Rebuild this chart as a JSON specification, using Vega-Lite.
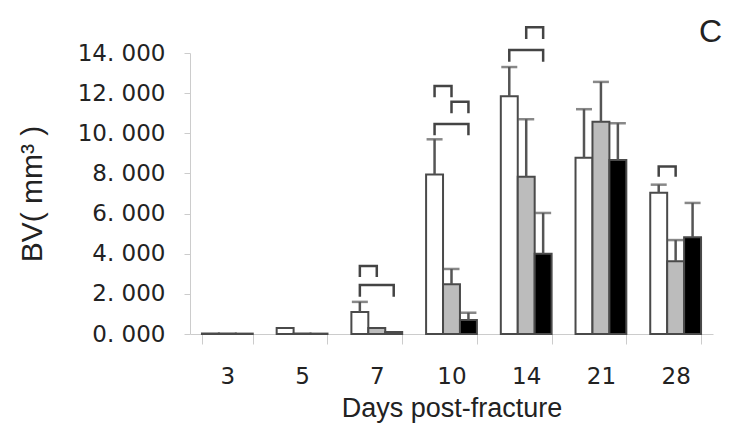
{
  "$schema": "https://vega.github.io/schema/vega-lite/v6.json",
  "autosize": {"type": "none"},
  "width": 523,
  "height": 281,
  "padding": {"left": 190, "top": 53, "right": 16, "bottom": 98},
  "background": "white",
  "config": {"view": {"stroke": null}},
  "title": {"text": "C", "anchor": "end", "frame": "group", "fontSize": 32, "font": "Liberation Sans", "fontWeight": "normal", "color": "#222", "offset": 6, "dx": 9, "dy": 33},
  "datasets": {
    "bars": [
      {"day": "3", "group": "white", "bv": 0.02},
      {"day": "3", "group": "grey", "bv": 0.02},
      {"day": "3", "group": "black", "bv": 0.02},
      {"day": "5", "group": "white", "bv": 0.3},
      {"day": "5", "group": "grey", "bv": 0.02},
      {"day": "5", "group": "black", "bv": 0.02},
      {"day": "7", "group": "white", "bv": 1.1, "upper": 1.6},
      {"day": "7", "group": "grey", "bv": 0.3},
      {"day": "7", "group": "black", "bv": 0.1},
      {"day": "10", "group": "white", "bv": 7.95, "upper": 9.7},
      {"day": "10", "group": "grey", "bv": 2.48, "upper": 3.24},
      {"day": "10", "group": "black", "bv": 0.7, "upper": 1.06},
      {"day": "14", "group": "white", "bv": 11.84, "upper": 13.3},
      {"day": "14", "group": "grey", "bv": 7.84, "upper": 10.7},
      {"day": "14", "group": "black", "bv": 4.0, "upper": 6.03},
      {"day": "21", "group": "white", "bv": 8.78, "upper": 11.2},
      {"day": "21", "group": "grey", "bv": 10.58, "upper": 12.56},
      {"day": "21", "group": "black", "bv": 8.67, "upper": 10.5},
      {"day": "28", "group": "white", "bv": 7.04, "upper": 7.44},
      {"day": "28", "group": "grey", "bv": 3.62, "upper": 4.68},
      {"day": "28", "group": "black", "bv": 4.82, "upper": 6.53}
    ],
    "brackets": [
      {"id": "7a", "day": "7", "group": "white", "k": 1, "y": 2.84},
      {"id": "7a", "day": "7", "group": "white", "k": 2, "y": 3.39},
      {"id": "7a", "day": "7", "group": "grey", "k": 3, "y": 3.39},
      {"id": "7a", "day": "7", "group": "grey", "k": 4, "y": 2.84},
      {"id": "7b", "day": "7", "group": "white", "k": 1, "y": 1.86},
      {"id": "7b", "day": "7", "group": "white", "k": 2, "y": 2.44},
      {"id": "7b", "day": "7", "group": "black", "k": 3, "y": 2.44},
      {"id": "7b", "day": "7", "group": "black", "k": 4, "y": 1.86},
      {"id": "10a", "day": "10", "group": "white", "k": 1, "y": 11.8},
      {"id": "10a", "day": "10", "group": "white", "k": 2, "y": 12.36},
      {"id": "10a", "day": "10", "group": "grey", "k": 3, "y": 12.36},
      {"id": "10a", "day": "10", "group": "grey", "k": 4, "y": 11.8},
      {"id": "10b", "day": "10", "group": "grey", "k": 1, "y": 11.0},
      {"id": "10b", "day": "10", "group": "grey", "k": 2, "y": 11.57},
      {"id": "10b", "day": "10", "group": "black", "k": 3, "y": 11.57},
      {"id": "10b", "day": "10", "group": "black", "k": 4, "y": 11.0},
      {"id": "10c", "day": "10", "group": "white", "k": 1, "y": 9.9},
      {"id": "10c", "day": "10", "group": "white", "k": 2, "y": 10.46},
      {"id": "10c", "day": "10", "group": "black", "k": 3, "y": 10.46},
      {"id": "10c", "day": "10", "group": "black", "k": 4, "y": 9.9},
      {"id": "14a", "day": "14", "group": "grey", "k": 1, "y": 14.7},
      {"id": "14a", "day": "14", "group": "grey", "k": 2, "y": 15.28},
      {"id": "14a", "day": "14", "group": "black", "k": 3, "y": 15.28},
      {"id": "14a", "day": "14", "group": "black", "k": 4, "y": 14.7},
      {"id": "14b", "day": "14", "group": "white", "k": 1, "y": 13.57},
      {"id": "14b", "day": "14", "group": "white", "k": 2, "y": 14.15},
      {"id": "14b", "day": "14", "group": "black", "k": 3, "y": 14.15},
      {"id": "14b", "day": "14", "group": "black", "k": 4, "y": 13.57},
      {"id": "28a", "day": "28", "group": "white", "k": 1, "y": 7.84},
      {"id": "28a", "day": "28", "group": "white", "k": 2, "y": 8.34},
      {"id": "28a", "day": "28", "group": "grey", "k": 3, "y": 8.34},
      {"id": "28a", "day": "28", "group": "grey", "k": 4, "y": 7.84}
    ]
  },
  "encoding": {
    "x": {
      "field": "day", "type": "ordinal",
      "sort": ["3", "5", "7", "10", "14", "21", "28"],
      "scale": {"paddingInner": 0.32, "paddingOuter": 0.16},
      "axis": {
        "title": "Days post-fracture",
        "labelAngle": 0,
        "labelFont": "DejaVu Sans", "labelFontSize": 23, "labelColor": "#222",
        "labelPadding": 21,
        "tickBand": "extent", "tickSize": 10, "tickColor": "#cccccc", "tickWidth": 1,
        "domainColor": "#cccccc", "domainWidth": 1,
        "titleFont": "Liberation Sans", "titleFontSize": 27, "titleFontWeight": "normal", "titleColor": "#222",
        "titlePadding": 7
      }
    },
    "xOffset": {"field": "group", "type": "nominal", "sort": ["white", "grey", "black"], "scale": {"paddingInner": 0, "paddingOuter": 0}}
  },
  "layer": [
    {
      "data": {"name": "bars"},
      "mark": {"type": "bar", "stroke": "#4a4a4a", "strokeWidth": 2},
      "encoding": {
        "y": {
          "field": "bv", "type": "quantitative",
          "scale": {"domain": [0, 14], "nice": false},
          "axis": {
            "title": "BV( mm³ )",
            "values": [0, 2, 4, 6, 8, 10, 12, 14],
            "labelExpr": "replace(format(datum.value, '.3f'), '.', '. ')",
            "labelFont": "DejaVu Sans", "labelFontSize": 23, "labelColor": "#222",
            "labelPadding": 19,
            "tickSize": 6, "tickColor": "#cccccc", "tickWidth": 1,
            "domainColor": "#cccccc", "domainWidth": 1,
            "grid": false,
            "titleFont": "Liberation Sans", "titleFontSize": 30, "titleFontWeight": "normal", "titleColor": "#222",
            "titlePadding": 30
          }
        },
        "fill": {"field": "group", "type": "nominal", "scale": {"domain": ["white", "grey", "black"], "range": ["#ffffff", "#bcbcbc", "#000000"]}, "legend": null}
      }
    },
    {
      "data": {"name": "bars"},
      "transform": [{"filter": "isValid(datum.upper)"}],
      "mark": {"type": "rule", "color": "#555555", "strokeWidth": 2.5},
      "encoding": {
        "y": {"field": "bv", "type": "quantitative"},
        "y2": {"field": "upper"}
      }
    },
    {
      "data": {"name": "bars"},
      "transform": [{"filter": "isValid(datum.upper)"}],
      "mark": {"type": "tick", "color": "#555555", "thickness": 2.5, "size": 16, "orient": "horizontal"},
      "encoding": {
        "y": {"field": "upper", "type": "quantitative"}
      }
    },
    {
      "data": {"name": "brackets"},
      "mark": {"type": "line", "color": "#444444", "strokeWidth": 2.5, "strokeJoin": "miter"},
      "encoding": {
        "y": {"field": "y", "type": "quantitative"},
        "detail": {"field": "id"},
        "order": {"field": "k", "type": "quantitative"}
      }
    }
  ]
}
